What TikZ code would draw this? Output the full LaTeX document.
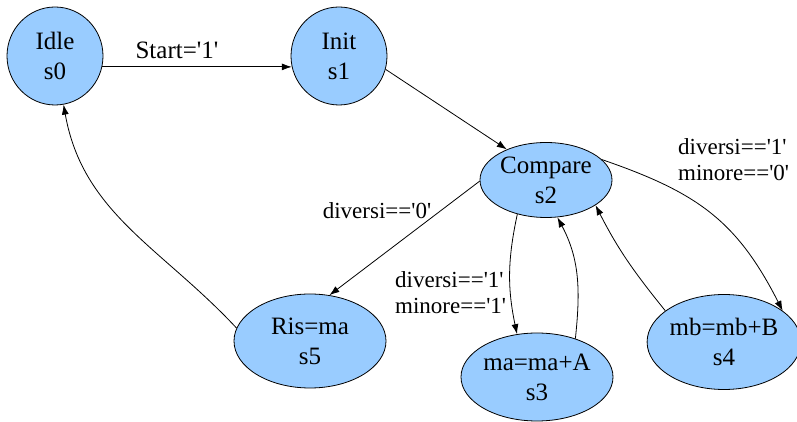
\documentclass[tikz,border=0pt]{standalone}
\usepackage{fontspec}
\newfontfamily\timesf{Liberation Serif}
\usetikzlibrary{shapes.geometric,arrows.meta}
\definecolor{stateblue}{RGB}{153,204,255}

\begin{document}
\begin{tikzpicture}[x=1pt,y=1pt,
  state/.style={ellipse, draw=black, fill=stateblue, line width=0.8pt, inner sep=0pt, align=center, font=\timesf\fontsize{25}{30}\selectfont},
  lbl/.style={inner sep=0pt, align=left, font=\timesf\fontsize{23}{26}\selectfont},
  trans/.style={-{Latex[length=10pt,width=7pt]}, line width=0.8pt}]
\useasboundingbox (0,0) rectangle (797,422);

\node[state, minimum width=96pt, minimum height=98pt] (s0) at (55,366) {Idle\\s0};
\node[state, minimum width=96pt, minimum height=98pt] (s1) at (339,366) {Init\\s1};
\node[state, minimum width=132pt, minimum height=75pt] (s2) at (546,242) {Compare\\s2};
\node[state, minimum width=152pt, minimum height=94pt] (s5) at (310,81) {Ris=ma\\s5};
\node[state, minimum width=152pt, minimum height=88pt] (s3) at (537,45) {ma=ma+A\\s3};
\node[state, minimum width=147pt, minimum height=95pt] (s4) at (724,80) {mb=mb+B\\s4};

\node[lbl, anchor=base, font=\timesf\fontsize{25}{30}\selectfont] (lstart) at (177,363) {Start='1'};
\node[lbl, anchor=base] (ldiff0) at (377,203) {diversi=='0'};
\node[lbl, anchor=west] (lless1) at (395,129) {diversi=='1'\\minore=='1'};
\node[lbl, anchor=west] (lless0) at (678,262) {diversi=='1'\\minore=='0'};

\draw[trans] (s0.-13) -- (s1.193);
\draw[trans] (s1.-16) -- (s2.142);
\draw[trans] (s2.181) -- (s5.67);
\draw[trans] (s5.170) to[out=133,in=-80] (s0.-80);
\draw[trans] (s2.20) to[out=-19,in=117,looseness=1.1] (s4.28);
\draw[trans] (s2.-130) to[bend right=12] (s3.115);
\draw[trans] (s3.45) to[out=84,in=-62] (s2.-73);
\draw[trans] (s4.152) to[out=129,in=-63] (s2.-27);
\end{tikzpicture}
\end{document}
